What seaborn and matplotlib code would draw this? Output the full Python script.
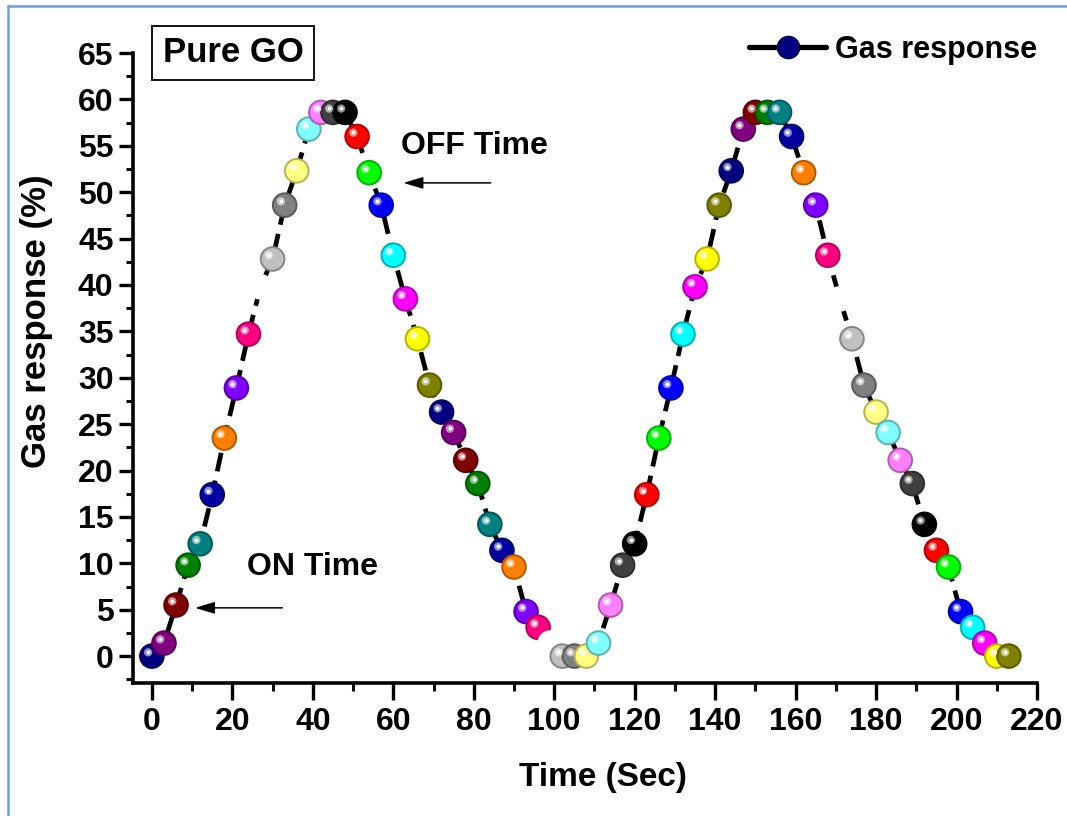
import numpy as np
import pandas as pd
import matplotlib
matplotlib.use("Agg")
import matplotlib.pyplot as plt
import matplotlib.transforms as mtransforms
from matplotlib.lines import Line2D
from matplotlib.colors import to_rgb
from matplotlib.ticker import MultipleLocator
import seaborn as sns

# time (s) and gas response (%)
time_sec = [0, 3, 6, 9, 12, 15, 18, 21, 24, 27, 30, 33, 36, 39, 42, 45, 48, 51,
            54, 57, 60, 63, 66, 69, 72, 75, 78, 81, 84, 87, 90, 93, 96, 99, 102, 105,
            108, 111, 114, 117, 120, 123, 126, 129, 132, 135, 138, 141, 144, 147, 150, 153,
            156, 159, 162, 165, 168, 171, 174, 177, 180, 183, 186, 189, 192, 195, 198, 201,
            204, 207, 210, 213]
gas_response = [0, 1.4, 5.5, 9.8, 12.1, 17.4, 23.5, 28.9, 34.7, 39.8, 42.8, 48.6,
                52.3, 56.8, 58.6, 58.6, 58.6, 56.0, 52.1, 48.6, 43.2, 38.5, 34.2, 29.2,
                26.3, 24.1, 21.1, 18.6, 14.2, 11.4, 9.6, 4.8, 3.1, 1.4, 0, 0,
                0, 1.4, 5.5, 9.8, 12.1, 17.4, 23.5, 28.9, 34.7, 39.8, 42.8, 48.6,
                52.3, 56.8, 58.6, 58.6, 58.6, 56.0, 52.1, 48.6, 43.2, 38.5, 34.2, 29.2,
                26.3, 24.1, 21.1, 18.6, 14.2, 11.4, 9.6, 4.8, 3.1, 1.4, 0, 0]

x_ticks = [0, 20, 40, 60, 80, 100, 120, 140, 160, 180, 200, 220]
y_ticks = [0, 5, 10, 15, 20, 25, 30, 35, 40, 45, 50, 55, 60, 65]

# Origin's default colour increment list, the series starts at Navy
origin_colors = ["#000000", "#FF0000", "#00FF00", "#0000FF", "#00FFFF", "#FF00FF",
                 "#FFFF00", "#808000", "#000080", "#800080", "#800000", "#008000",
                 "#008080", "#0000A0", "#FF8000", "#8000FF", "#FF0080", "#FFFFFF",
                 "#C0C0C0", "#808080", "#FFFF80", "#80FFFF", "#FF80FF", "#404040"]
start_color = 8

df = pd.DataFrame({"time": time_sec, "response": gas_response})
df["idx"] = np.arange(len(df))
point_colors = [origin_colors[(start_color + i) % len(origin_colors)] for i in df["idx"]]


def mix(c, other, frac):
    a = np.array(to_rgb(c))
    b = np.array(to_rgb(other))
    return tuple(a * (1 - frac) + b * frac)


sns.set_theme(style="ticks")
plt.rcParams["font.family"] = ["Liberation Sans", "DejaVu Sans"]
plt.rcParams["font.weight"] = "bold"
plt.rcParams["axes.labelweight"] = "bold"
plt.rcParams["text.color"] = "black"
plt.rcParams["axes.labelcolor"] = "black"

W, H = 1067, 816
fig = plt.figure(figsize=(W / 100, H / 100), dpi=100)
ax = fig.add_axes([133 / W, 133 / H, 904 / W, 630 / H])

# dashed connecting line
sns.lineplot(data=df, x="time", y="response", ax=ax, estimator=None, sort=False,
             color="black", lw=3.4, linestyle=(0, (4, 2)), dash_capstyle="butt", zorder=2)

# coloured balls
sns.scatterplot(data=df, x="time", y="response", hue="idx",
                palette=dict(zip(df["idx"], point_colors)), s=290, linewidth=1.4,
                legend=False, ax=ax, zorder=3)
balls = ax.collections[-1]
balls.set_edgecolors([c if c == "#FFFFFF" else mix(c, "black", 0.3) for c in point_colors])

# shine on the balls
shine = mtransforms.offset_copy(ax.transData, fig=fig, x=-3.8, y=3.8, units="dots")
ax.scatter(df["time"], df["response"], s=36, linewidths=0,
           c=[mix(c, "white", 0.55) for c in point_colors], transform=shine, zorder=4)
spot = mtransforms.offset_copy(ax.transData, fig=fig, x=-4.1, y=4.1, units="dots")
ax.scatter(df["time"], df["response"], s=8, linewidths=0, c="white",
           transform=spot, zorder=5)

ax.set_xlim(-4.7, 220)
ax.set_ylim(-2.9, 65)
ax.set_xticks(x_ticks)
ax.set_yticks(y_ticks)
ax.xaxis.set_minor_locator(MultipleLocator(10))
ax.yaxis.set_minor_locator(MultipleLocator(2.5))
sns.despine(ax=ax)
for side in ["left", "bottom"]:
    ax.spines[side].set_linewidth(2.6)
    ax.spines[side].set_color("black")
ax.tick_params(axis="both", which="both", direction="out", colors="black", labelsize=23)
ax.tick_params(axis="x", which="major", length=12, width=2.4, pad=5)
ax.tick_params(axis="x", which="minor", length=6, width=2.2)
ax.tick_params(axis="y", which="major", length=10, width=2.4, pad=4)
ax.tick_params(axis="y", which="minor", length=5, width=2.2)

ax.set_xlabel("Time (Sec)", fontsize=24)
ax.set_ylabel("Gas response (%)", fontsize=25)
ax.xaxis.set_label_coords(0.52, -0.125)
ax.yaxis.set_label_coords(-0.088, 0.575)

# sample name box
ax.text(0.111, 1.0, "Pure GO", transform=ax.transAxes, fontsize=25, ha="center",
        va="center", clip_on=False,
        bbox=dict(boxstyle="square,pad=0.3", fc="white", ec="black", lw=1.3))

# legend
handle = Line2D([0], [0], color="black", lw=3.8, marker="o", ms=16,
                mfc="#000080", mec="#00004f")
ax.legend(handles=[handle], labels=["Gas response"], loc="center right",
          bbox_to_anchor=(1.0, 1.005), frameon=False, prop=dict(weight="bold", size=22),
          handlelength=2.5, handletextpad=0.3, borderaxespad=0, borderpad=0)

# ON / OFF markers
arrow = dict(arrowstyle="-|>,head_length=0.6,head_width=0.18", color="black",
             lw=1.1, mutation_scale=20, shrinkA=0, shrinkB=0)
ax.annotate("", xy=(62.5, 51), xytext=(84.2, 51), arrowprops=arrow)
ax.text(80.2, 55.0, "OFF Time", fontsize=23, ha="center", va="center")
ax.annotate("", xy=(10.7, 5.2), xytext=(32.4, 5.2), arrowprops=arrow)
ax.text(39.9, 9.6, "ON Time", fontsize=23, ha="center", va="center")

# page frame around the figure
frame = "#6FA0DC"
fig.add_artist(Line2D([8 / W, 8 / W], [0, 1 - 6 / H], color=frame, lw=1.8,
                      transform=fig.transFigure))
fig.add_artist(Line2D([8 / W, 1], [1 - 6 / H, 1 - 6 / H], color=frame, lw=1.8,
                      transform=fig.transFigure))

fig.savefig("out.png", dpi=100)
